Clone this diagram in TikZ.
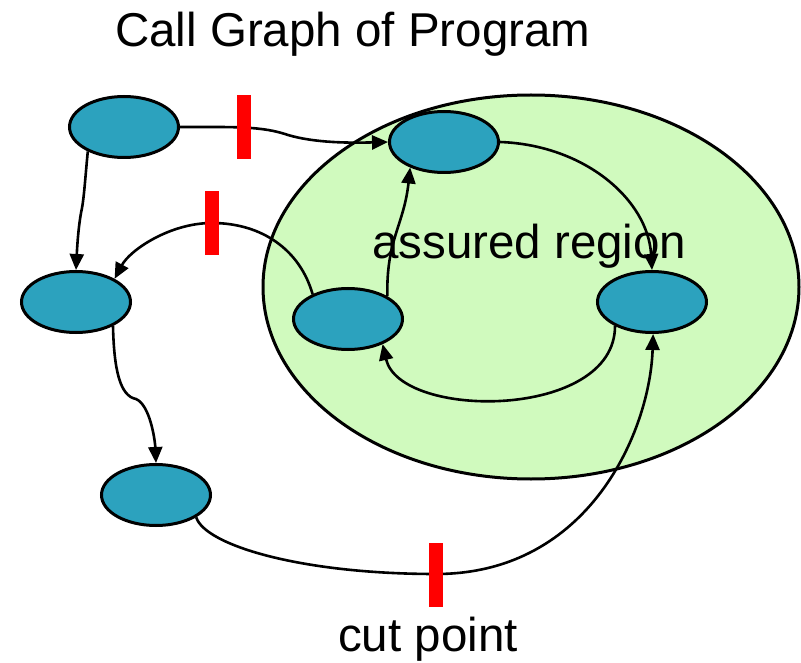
\documentclass[tikz,border=0pt]{standalone}
\usepackage{fontspec}
\setmainfont{Liberation Sans}
\usetikzlibrary{shapes.geometric,arrows.meta}

\definecolor{funcblue}{RGB}{44,162,190}
\definecolor{regiongreen}{RGB}{208,250,190}

\tikzset{
  func/.style={ellipse, draw, line width=3pt, fill=funcblue, minimum width=109pt, minimum height=61pt, inner sep=0pt},
  call/.style={line width=2.6pt, -{Triangle[length=16pt,width=14pt]}},
  cutbar/.style={fill=red, minimum width=14pt, minimum height=64pt, inner sep=0pt},
  bigtext/.style={anchor=base west, inner sep=0pt, font=\fontsize{47.5}{57}\selectfont}
}

\begin{document}
\begin{tikzpicture}[x=1pt,y=1pt,yscale=-1]
\useasboundingbox (0,0) rectangle (801,663);
% assured region
\draw [line width=3pt, fill=regiongreen] (531,287) ellipse (268 and 192);
%Text
\node [bigtext] (title) at (115,47) {Call Graph of Program};
\node [bigtext] (region) at (372,259) {assured region};
\node [bigtext] (cutlabel) at (338,651) {cut point};
% functions
\node [func] (topleft) at (124,127) {};
\node [func] (midleft) at (76,302) {};
\node [func] (botleft) at (156,495) {};
\node [func] (regtop) at (444,142) {};
\node [func] (regmid) at (348,319) {};
\node [func] (regright) at (652,302) {};
% calls
\draw [call] (topleft.east) .. controls (235,127) and (262,126) .. (288,135) .. controls (315,143) and (350,143) .. (regtop.west);
\draw [call] (topleft.214) .. controls (85,180) and (84,200) .. (81,213) .. controls (78,230) and (77,250) .. (midleft.north);
\draw [call] (regmid.145) .. controls (300,250) and (262,223) .. (212,223) .. controls (170,223) and (130,250) .. (midleft.31);
\draw [call] (regmid.30) .. controls (386,240) and (404,225) .. (regtop.217);
\draw [call] (regtop.east) .. controls (585,145) and (648,200) .. (regright.north);
\draw [call] (regright.213) .. controls (615,420) and (400,420) .. (regmid.324);
\draw [call] (midleft.327) .. controls (114,370) and (120,396) .. (136,399) .. controls (150,405) and (155,440) .. (botleft.north);
\draw [call] (botleft.331) .. controls (205,545) and (300,574) .. (436,574) .. controls (590,574) and (650,430) .. (regright.272);
% cut points
\node [cutbar] (cut1) at (244,127) {};
\node [cutbar] (cut2) at (212,223) {};
\node [cutbar] (cut3) at (436,575) {};
\end{tikzpicture}
\end{document}
